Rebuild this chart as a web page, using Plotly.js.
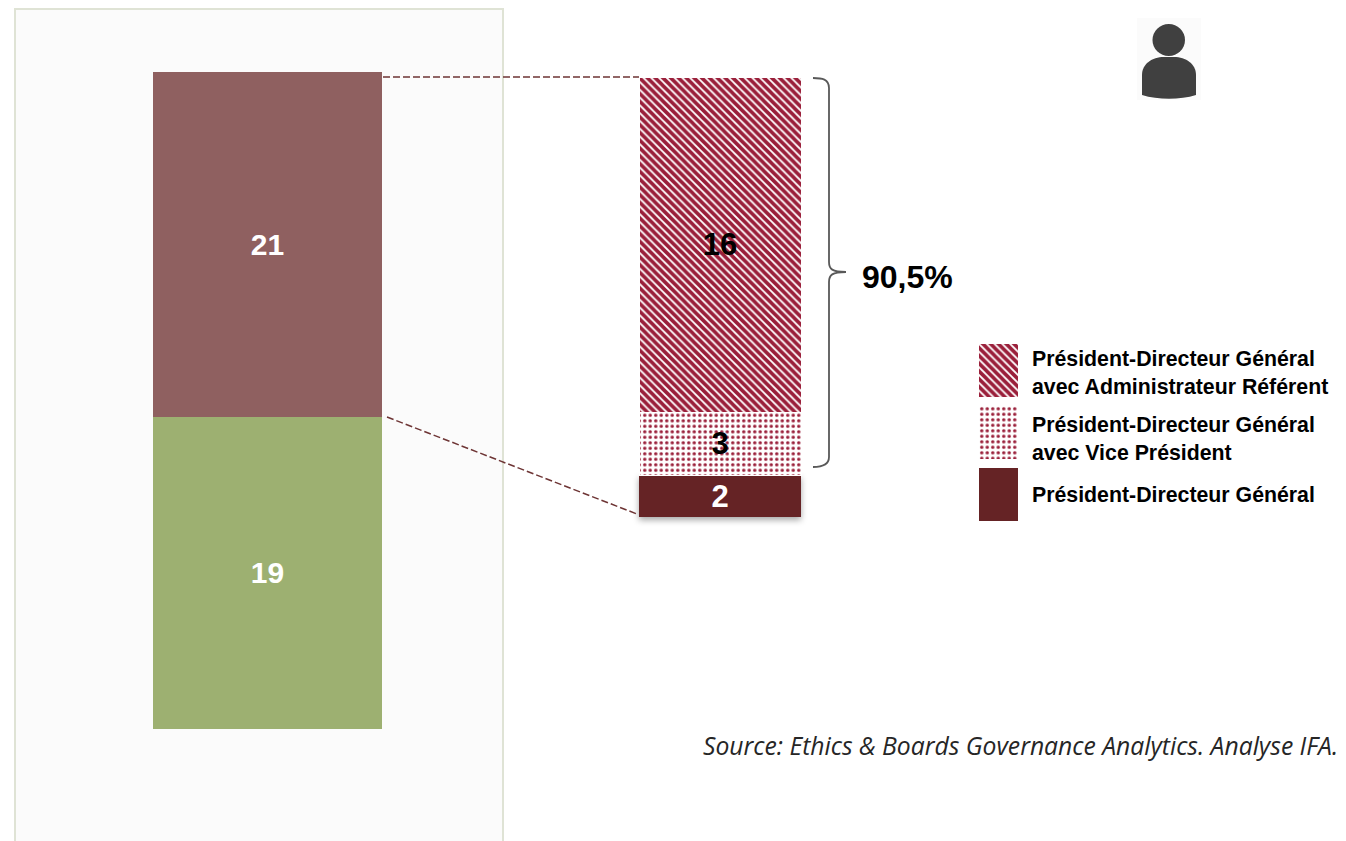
<!DOCTYPE html>
<html>
<head>
<meta charset="utf-8">
<script src="https://cdn.plot.ly/plotly-3.0.1.min.js"></script>
<style>html,body{margin:0;padding:0;background:#fff;overflow:hidden}</style>
</head>
<body>
<div id="chart" style="width:1346px;height:841px"></div>
<script>
// Data
const leftValues = [19, 21];
const leftColors = ['#9db071', '#8f6060'];
const rightNames = ['Président-Directeur Général', 'Président-Directeur Général<br>avec Vice Président', 'Président-Directeur Général<br>avec Administrateur Référent'];
const rightValues = [2, 3, 16];
const bracketLabel = '90,5%';
const sourceText = 'Source: Ethics & Boards Governance Analytics. Analyse IFA.';

// Styles
const W = 1346, H = 841;
const FONT = '"Liberation Sans", Arial, sans-serif';
const HATCH = '#9a1f3a', DARK = '#652325';
const patterns = [
  {shape: ''},
  {shape: '.', fgcolor: HATCH, bgcolor: '#ffffff', size: 5.5, solidity: 0.3, fillmode: 'replace'},
  {shape: '\\', fgcolor: HATCH, bgcolor: '#ffffff', size: 5.5, solidity: 0.66, fillmode: 'replace'}
];
const px = x => x / W;
const py = y => 1 - y / H;
const dom = (a, b) => [a / W, b / W];
const domY = (top, bottom) => [py(bottom), py(top)];
const P = (x, y) => `${px(x).toFixed(5)},${py(y).toFixed(5)}`;

const traces = [];
leftValues.forEach((v, i) => traces.push({
  type: 'bar', x: ['Total'], y: [v], xaxis: 'x', yaxis: 'y', width: [1],
  marker: {color: leftColors[i], line: {width: 0}},
  text: [String(v)], textposition: 'inside', insidetextanchor: 'middle', textangle: 0,
  textfont: {family: FONT, size: 30, color: '#ffffff', weight: 700},
  hoverinfo: 'skip', showlegend: false
}));
rightValues.forEach((v, i) => traces.push({
  type: 'bar', x: ['Détail'], y: [v], xaxis: 'x2', yaxis: 'y2', width: [1],
  marker: {color: i === 0 ? DARK : '#ffffff', pattern: patterns[i], line: {color: '#ffffff', width: i === 0 ? 0 : 1}},
  text: [String(v)], textposition: 'inside', insidetextanchor: 'middle', textangle: 0,
  textfont: {family: FONT, size: 31, color: i === 0 ? '#ffffff' : '#000000', weight: 700},
  hoverinfo: 'skip', showlegend: false
}));
// Legend swatches
rightNames.forEach((n, i) => traces.push({
  type: 'bar', orientation: 'h', x: [1], y: [n], xaxis: 'x3', yaxis: 'y3', width: [0.86],
  marker: {color: i === 0 ? DARK : '#ffffff', pattern: patterns[i], line: {width: 0}},
  hoverinfo: 'skip', showlegend: false
}));

const hidden = {visible: false, fixedrange: true};
const shapes = [
  {type: 'rect', xref: 'paper', yref: 'paper', x0: px(15), x1: px(503), y0: py(860), y1: py(9),
   fillcolor: '#fbfbfb', line: {color: '#dfe3d5', width: 2}, layer: 'below'},
  {type: 'line', xref: 'paper', yref: 'paper', x0: px(383), y0: py(77), x1: px(639), y1: py(77),
   line: {color: '#6e3535', width: 1.5, dash: '7px,3px'}},
  {type: 'line', xref: 'paper', yref: 'paper', x0: px(387), y0: py(417), x1: px(637), y1: py(514),
   line: {color: '#6e3535', width: 1.5, dash: '7px,3px'}},
  // bracket
  {type: 'path', xref: 'paper', yref: 'paper', line: {color: '#595959', width: 1.8},
   path: `M${P(813,78)} C${P(822,78)} ${P(829,79)} ${P(829,88)} L${P(829,262)} C${P(829,269)} ${P(832,272)} ${P(846,272)} C${P(832,272)} ${P(829,275)} ${P(829,282)} L${P(829,457)} C${P(829,465)} ${P(822,467)} ${P(813,467)}`},
  // person icon
  {type: 'rect', xref: 'paper', yref: 'paper', x0: px(1137), x1: px(1201), y0: py(100), y1: py(18),
   fillcolor: '#fbfbfb', line: {width: 0}, layer: 'below'},
  {type: 'circle', xref: 'paper', yref: 'paper', x0: px(1152.5), x1: px(1185), y0: py(56), y1: py(24),
   fillcolor: '#404040', line: {width: 0}},
  {type: 'path', xref: 'paper', yref: 'paper', fillcolor: '#404040', line: {width: 0},
   path: `M${P(1142,95)} L${P(1142,75)} C${P(1142,64)} ${P(1152,57)} ${P(1164,57)} L${P(1174,57)} C${P(1186,57)} ${P(1196,64)} ${P(1196,75)} L${P(1196,95)} C${P(1180,100)} ${P(1158,100)} ${P(1142,95)} Z`}
];

const note = (text, x, y, size, extra) => Object.assign({
  text, xref: 'paper', yref: 'paper', x: px(x), y: py(y), xanchor: 'left', yanchor: 'middle',
  align: 'left', showarrow: false, font: {family: FONT, size, color: '#000000', weight: 700}
}, extra || {});

const annotations = [
  note(bracketLabel, 860, 277, 32),
  note(rightNames[2], 1030, 373, 21.3),
  note(rightNames[1], 1030, 439, 21.3),
  note(rightNames[0], 1030, 495, 21.3),
  note(sourceText, 701, 745, 24.7, {font: {family: '"Open Sans", sans-serif', size: 24.7, color: '#262626', style: 'italic', weight: 400}})
];

// the detail bar's plot area is 8px wider than the bar on each side and extends
// below it, so the bottom segment's drop shadow is not clipped
const layout = {
  width: W, height: H, margin: {l: 0, r: 0, t: 0, b: 0},
  paper_bgcolor: '#ffffff', plot_bgcolor: 'rgba(0,0,0,0)',
  barmode: 'stack', bargap: 0, showlegend: false,
  xaxis: Object.assign({domain: dom(153, 382), anchor: 'y', type: 'category'}, hidden),
  yaxis: Object.assign({domain: domY(72, 729), anchor: 'x', range: [0, 40]}, hidden),
  xaxis2: Object.assign({domain: dom(631, 809), anchor: 'y2', type: 'category', range: [-0.5494, 0.5494]}, hidden),
  yaxis2: Object.assign({domain: domY(77, 527), anchor: 'x2', range: [-0.477, 21]}, hidden),
  xaxis3: Object.assign({domain: dom(979, 1018), anchor: 'y3', range: [0, 1]}, hidden),
  yaxis3: Object.assign({domain: domY(340, 525), anchor: 'x3', type: 'category', categoryorder: 'array', categoryarray: rightNames}, hidden),
  shapes, annotations
};

Plotly.newPlot('chart', traces, layout, {displayModeBar: false, staticPlot: true}).then(() => {
  const bar = document.querySelectorAll('.barlayer .trace')[2];
  if (bar) bar.querySelectorAll('path').forEach(p => p.style.filter = 'drop-shadow(0 3px 3px rgba(0,0,0,0.35))');
});
</script>
</body>
</html>
